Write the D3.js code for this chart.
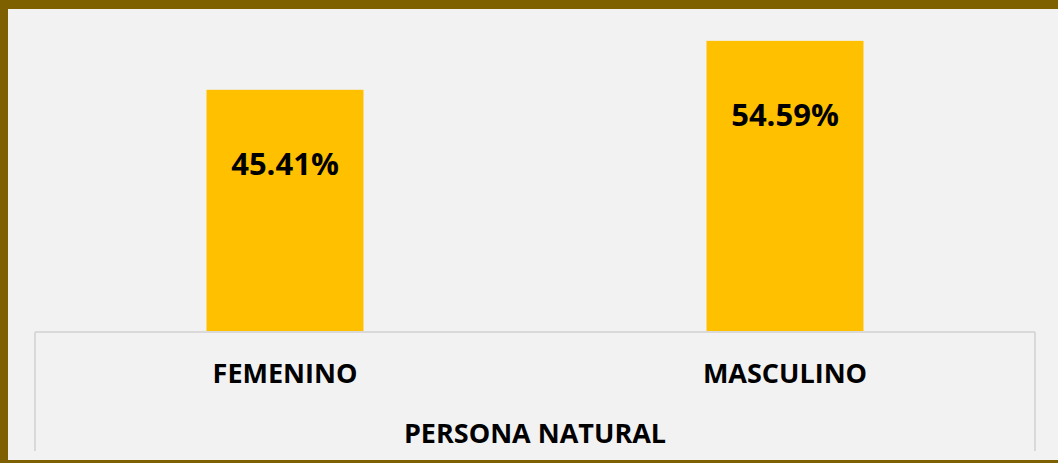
<!DOCTYPE html>
<html>
<head>
<meta charset="utf-8">
<script src="https://cdn.jsdelivr.net/npm/d3@7"></script>
<style>
  html, body { margin: 0; padding: 0; background: #f2f2f2; }
  svg { display: block; font-family: "Open Sans", "DejaVu Sans", sans-serif; }
</style>
</head>
<body>
<svg id="chart"></svg>
<script>
// donnees
const categories = ["FEMENINO", "MASCULINO"];
const values = [45.41, 54.59];
const groupLabel = "PERSONA NATURAL";

const width = 1058, height = 463;

const svg = d3.select("#chart")
  .attr("width", width)
  .attr("height", height);

// fond
svg.append("rect")
  .attr("width", width)
  .attr("height", height)
  .attr("fill", "#f2f2f2");

const x = d3.scaleBand()
  .domain(categories)
  .range([35, 1035])
  .paddingInner(0.686)
  .paddingOuter(0.343);

const y = d3.scaleLinear()
  .domain([0, 60])
  .range([332, 12]);

// barres
svg.selectAll(".bar")
  .data(values)
  .join("rect")
  .attr("class", "bar")
  .attr("x", (d, i) => x(categories[i]))
  .attr("y", d => y(d))
  .attr("width", x.bandwidth())
  .attr("height", d => y(0) - y(d))
  .attr("fill", "#ffc000");

// etiquettes des valeurs
svg.selectAll(".val")
  .data(values)
  .join("text")
  .attr("class", "val")
  .attr("x", (d, i) => x(categories[i]) + x.bandwidth() / 2)
  .attr("y", d => y(d) + 85)
  .attr("text-anchor", "middle")
  .attr("font-size", 31)
  .attr("font-weight", "bold")
  .attr("fill", "#000")
  .text(d => d.toFixed(2) + "%");

// boite de l'axe
const axisColor = "#d9d9d9";
const [x0, x1] = x.range();
svg.append("line")
  .attr("x1", x0).attr("x2", x1)
  .attr("y1", y(0)).attr("y2", y(0))
  .attr("stroke", axisColor).attr("stroke-width", 2);
[x0, x1].forEach(xx => {
  svg.append("line")
    .attr("x1", xx).attr("x2", xx)
    .attr("y1", y(0)).attr("y2", 451)
    .attr("stroke", axisColor).attr("stroke-width", 2);
});

// categories
svg.selectAll(".cat")
  .data(categories)
  .join("text")
  .attr("class", "cat")
  .attr("x", d => x(d) + x.bandwidth() / 2)
  .attr("y", 383)
  .attr("text-anchor", "middle")
  .attr("font-size", 27)
  .attr("font-weight", "bold")
  .attr("fill", "#000")
  .text(d => d);

svg.append("text")
  .attr("x", (x0 + x1) / 2)
  .attr("y", 443)
  .attr("text-anchor", "middle")
  .attr("font-size", 27)
  .attr("font-weight", "bold")
  .attr("fill", "#000")
  .text(groupLabel);

// cadre
const frame = "#7f6000";
svg.append("rect").attr("x", 0).attr("y", 0).attr("width", width).attr("height", 9).attr("fill", frame);
svg.append("rect").attr("x", 0).attr("y", 0).attr("width", 8).attr("height", height).attr("fill", frame);
svg.append("rect").attr("x", 0).attr("y", 460).attr("width", width).attr("height", 3).attr("fill", frame);
</script>
</body>
</html>
